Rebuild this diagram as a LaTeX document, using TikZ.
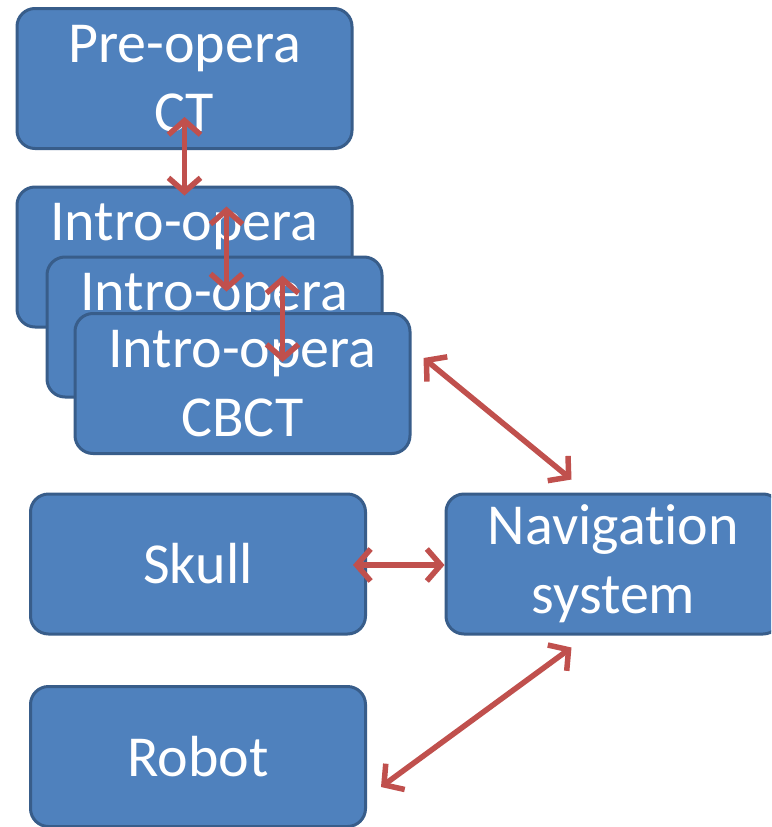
\documentclass[tikz,border=0pt]{standalone}
\usepackage{fontspec}
\setmainfont[Ligatures={NoCommon}]{Carlito}
\usetikzlibrary{arrows.meta,calc}
\definecolor{boxfill}{HTML}{4F81BD}
\definecolor{boxline}{HTML}{385D8A}
\definecolor{arrowred}{HTML}{C0504D}
\begin{document}
\begin{tikzpicture}[x=1pt,y=-1pt,
  box/.style={draw=boxline, line width=3pt, fill=boxfill, rounded corners=18pt,
    minimum width=335pt, minimum height=140pt, inner sep=0pt, text=white,
    align=center, font=\fontsize{58}{69}\selectfont},
  link/.style={draw=arrowred, line width=5.5pt,
    {Straight Barb[length=14pt,width=32pt]}-{Straight Barb[length=14pt,width=32pt]}}]
\useasboundingbox (0,0) rectangle (771,827);
\clip (0,0) rectangle (771,827);
\fill[white] (0,0) rectangle (771,827);
\node[box] (pre) at (184.5,78.5) {Pre-opera\\CT};
\node[box] (intro1) at (184.5,257) {Intro-opera\\\phantom{CBCT}};
\node[box] (intro2) at (214.5,327) {Intro-opera\\\phantom{CBCT}};
\node[box] (cbct) at (242.5,383.5) {Intro-opera\\CBCT};
\node[box] (skull) at (198,564) {Skull};
\node[box] (nav) at (613.5,564) {Navigation\\system};
\node[box] (robot) at (198,756.5) {Robot};
\draw[link] ($(pre.south)+(0,-33)$) -- ($(intro1.north)+(0,10)$);
\draw[link] ($(intro1.north)+(42,21)$) -- ($(intro2.north)+(12,36)$);
\draw[link] ($(intro2.north)+(68,20)$) -- ($(cbct.north)+(40,50)$);
\draw[link] ($(cbct.east)+(12,-25.5)$) -- ($(nav.north)+(-42,-13)$);
\draw[link] ($(skull.east)+(-14,1)$) -- ($(nav.west)+(0,1)$);
\draw[link] ($(nav.south)+(-42,12)$) -- ($(robot.east)+(14,30.5)$);
\end{tikzpicture}
\end{document}
